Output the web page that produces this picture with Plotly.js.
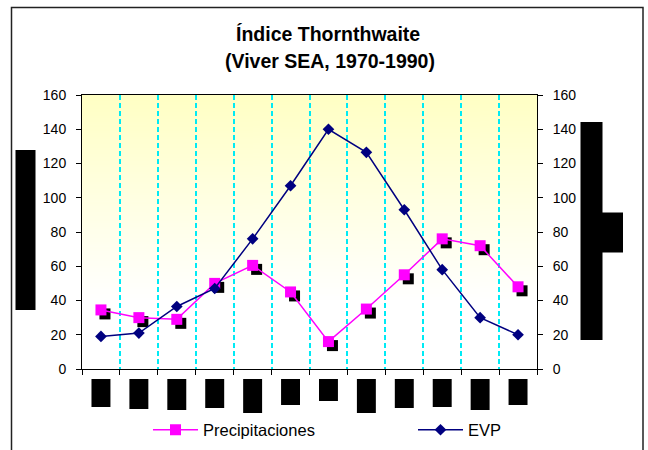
<!DOCTYPE html>
<html>
<head>
<meta charset="utf-8">
<script src="https://cdn.plot.ly/plotly-3.0.1.min.js"></script>
<style>body{margin:0;background:#fff}</style>
</head>
<body>
<div id="chart" style="width:648px;height:450px"></div>
<script>
// Data (months 1-12)
const months = ['1', '2', '3', '4', '5', '6', '7', '8', '9', '10', '11', '12'];
const precipitaciones = [34.5, 30, 29, 50, 60.5, 45, 16, 35, 55, 76, 72, 48];
const evp = [19, 21, 36.5, 47, 76, 107, 140, 126.5, 93, 58, 30, 20];
const yTicks = [0, 20, 40, 60, 80, 100, 120, 140, 160];

// plot area in pixels
const L = 82, R = 537, T = 95, B = 369;
const px = x => (x - L) / (R - L);
const py = y => (B - y) / (B - T);

// shadow offset for the Precipitaciones markers (pixels -> axis units)
const sx = 4 / ((R - L) / 12);
const sy = 4 / ((B - T) / 160);

// plot background gradient
const cv = document.createElement('canvas');
cv.width = 4; cv.height = 256;
const ctx = cv.getContext('2d');
const grad = ctx.createLinearGradient(0, 0, 0, 256);
grad.addColorStop(0, '#FFFFC4');
grad.addColorStop(0.75, '#FFFFFF');
grad.addColorStop(1, '#FFFFFF');
ctx.fillStyle = grad;
ctx.fillRect(0, 0, 4, 256);

// hidden label boxes under each month (bottom edge in px)
const boxBottoms = [407, 409, 410, 408, 413, 405, 401, 413, 408, 407, 410, 405];

const shapes = [
    // outer frame
    {type: 'rect', xref: 'paper', yref: 'paper', x0: px(11.5), x1: px(643), y0: py(470), y1: py(7.5),
     line: {color: '#222', width: 1.5}, fillcolor: 'rgba(0,0,0,0)'},
    // left axis title block
    {type: 'rect', xref: 'paper', yref: 'paper', x0: px(15.5), x1: px(35.5), y0: py(310), y1: py(150),
     line: {width: 0}, fillcolor: '#000'},
    // right axis title block
    {type: 'rect', xref: 'paper', yref: 'paper', x0: px(580.5), x1: px(602.5), y0: py(340), y1: py(122),
     line: {width: 0}, fillcolor: '#000'},
    {type: 'rect', xref: 'paper', yref: 'paper', x0: px(602), x1: px(623), y0: py(252.5), y1: py(212.5),
     line: {width: 0}, fillcolor: '#000'}
];
boxBottoms.forEach((b, i) => {
    shapes.push({type: 'rect', xref: 'x', yref: 'paper', x0: i - 0.25, x1: i + 0.25, y0: py(b), y1: py(379),
        line: {width: 0}, fillcolor: '#000'});
});

const data = [{
    // marker shadows
    x: months, y: precipitaciones, xaxis: 'x2', yaxis: 'y2',
    type: 'scatter', mode: 'markers', showlegend: false, hoverinfo: 'skip',
    marker: {symbol: 'square', size: 11, color: '#000'}
}, {
    x: months, y: precipitaciones, xaxis: 'x3', yaxis: 'y3',
    type: 'scatter', mode: 'lines+markers', name: 'Precipitaciones', legend: 'legend',
    line: {color: '#FF00FF', width: 1.5},
    marker: {symbol: 'square', size: 11, color: '#FF00FF'}
}, {
    x: months, y: evp, xaxis: 'x3', yaxis: 'y4',
    type: 'scatter', mode: 'lines+markers', name: 'EVP', legend: 'legend2',
    line: {color: '#000080', width: 1.5},
    marker: {symbol: 'diamond', size: 9, color: '#000080'}
}];

const fam = 'Liberation Sans, Arial, sans-serif';
const tickFont = {family: fam, size: 14, color: '#000'};
const yShown = {
    range: [0, 160], tickvals: yTicks, ticks: 'outside', ticklen: 5, tickcolor: '#000',
    showgrid: false, zeroline: false, showline: true, linecolor: '#000', linewidth: 1,
    tickfont: tickFont, ticklabelstandoff: 7, fixedrange: true
};
const legendCommon = {
    orientation: 'h', xanchor: 'left', y: py(430), yanchor: 'middle', itemwidth: 45,
    font: {family: fam, size: 16.5, color: '#000'}, bgcolor: 'rgba(0,0,0,0)'
};

const layout = {
    width: 648, height: 450,
    margin: {l: L, r: 648 - R, t: T, b: 450 - B, autoexpand: false},
    paper_bgcolor: '#fff',
    plot_bgcolor: 'rgba(0,0,0,0)',
    font: {family: fam, color: '#000'},
    images: [{
        source: cv.toDataURL('image/png'), xref: 'paper', yref: 'paper',
        x: 0, y: 1, sizex: 1, sizey: 1, sizing: 'stretch', layer: 'below'
    }],
    xaxis: {
        type: 'category', categoryarray: months, range: [-0.5, 11.5],
        tickson: 'boundaries', ticks: 'outside', ticklen: 5, tickcolor: '#000',
        showticklabels: false, showgrid: true, gridcolor: 'rgb(0,235,245)', gridwidth: 2, griddash: '5px,3px',
        showline: true, mirror: true, linecolor: '#000', linewidth: 1, fixedrange: true
    },
    yaxis: Object.assign({side: 'left'}, yShown),
    xaxis2: {type: 'category', categoryarray: months, overlaying: 'x', range: [-0.5 - sx, 11.5 - sx], visible: false, fixedrange: true},
    yaxis2: {overlaying: 'y', range: [sy, 160 + sy], visible: false, fixedrange: true},
    xaxis3: {type: 'category', categoryarray: months, overlaying: 'x', range: [-0.5, 11.5], visible: false, fixedrange: true},
    yaxis3: {overlaying: 'y', range: [0, 160], visible: false, fixedrange: true},
    yaxis4: Object.assign({overlaying: 'y', anchor: 'x', side: 'right'}, yShown),
    showlegend: true,
    legend: Object.assign({x: px(148)}, legendCommon),
    legend2: Object.assign({x: px(413)}, legendCommon),
    annotations: [{
        text: '<b>Índice Thornthwaite</b>', xref: 'paper', yref: 'paper',
        x: px(327.7), y: py(34), xanchor: 'center', yanchor: 'middle', showarrow: false,
        font: {family: fam, size: 19.5, color: '#000'}
    }, {
        text: '<b>(Viver SEA, 1970-1990)</b>', xref: 'paper', yref: 'paper',
        x: px(329.5), y: py(61), xanchor: 'center', yanchor: 'middle', showarrow: false,
        font: {family: fam, size: 19.5, color: '#000'}
    }],
    shapes: shapes
};

Plotly.newPlot('chart', data, layout, {displayModeBar: false, staticPlot: true});
</script>
</body>
</html>
